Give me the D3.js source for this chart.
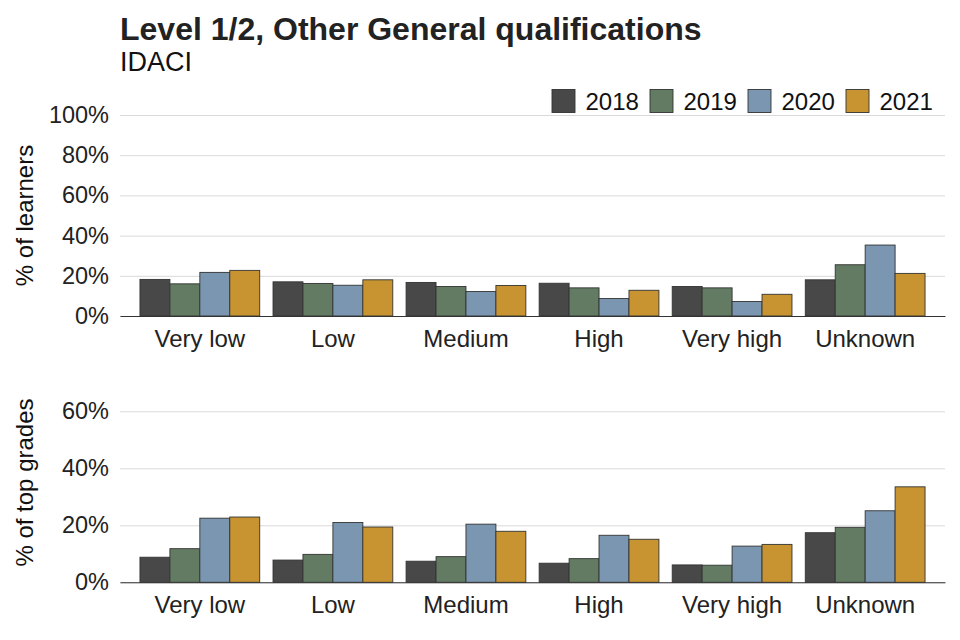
<!DOCTYPE html>
<html>
<head>
<meta charset="utf-8">
<script src="https://cdn.jsdelivr.net/npm/d3@7"></script>
<style>
  html, body { margin: 0; padding: 0; background: #fff; }
  svg { display: block; font-family: "Liberation Sans", Arial, sans-serif; }
</style>
</head>
<body>
<svg id="chart" width="960" height="640"></svg>
<script>
const categories = ["Very low", "Low", "Medium", "High", "Very high", "Unknown"];
const years = ["2018", "2019", "2020", "2021"];
const colours = ["#484848", "#627b62", "#7a96b0", "#c79431"];

// % of learners (top panel)
const learners2018 = [0.182, 0.170, 0.167, 0.163, 0.147, 0.180];
const learners2019 = [0.160, 0.162, 0.147, 0.140, 0.140, 0.255];
const learners2020 = [0.217, 0.153, 0.122, 0.087, 0.072, 0.353];
const learners2021 = [0.227, 0.180, 0.152, 0.128, 0.108, 0.212];

// % of top grades (bottom panel)
const top2018 = [0.088, 0.078, 0.074, 0.067, 0.061, 0.174];
const top2019 = [0.118, 0.098, 0.090, 0.083, 0.060, 0.193];
const top2020 = [0.225, 0.210, 0.204, 0.165, 0.127, 0.251];
const top2021 = [0.229, 0.194, 0.179, 0.151, 0.133, 0.335];

const learnerTicks = [0, 0.2, 0.4, 0.6, 0.8, 1.0];
const topTicks = [0, 0.2, 0.4, 0.6];

const titleText = "Level 1/2, Other General qualifications";
const subtitleText = "IDACI";

const svg = d3.select("#chart");
const left = 120, right = 945;
const fmt = d3.format(".0%");

const x = d3.scaleBand().domain(categories).range([left, right])
  .paddingInner(0.1).paddingOuter(0.15);
const xi = d3.scaleBand().domain(years).range([0, x.bandwidth()]).padding(0);
const colour = d3.scaleOrdinal().domain(years).range(colours);

function panel(series, yDomain, yRange, ticks, axisTitle) {
  const y = d3.scaleLinear().domain(yDomain).range(yRange);
  const g = svg.append("g");

  // gridlines
  g.append("g")
    .attr("transform", `translate(${left},0)`)
    .call(d3.axisLeft(y).tickValues(ticks).tickSize(-(right - left)).tickFormat(""))
    .call(s => s.select(".domain").remove())
    .call(s => s.selectAll("line").attr("stroke", "#d9d9d9").attr("stroke-width", 1));

  // tick labels
  g.append("g")
    .attr("transform", `translate(${left},0)`)
    .call(d3.axisLeft(y).tickValues(ticks).tickSize(0).tickPadding(11).tickFormat(fmt))
    .call(s => s.select(".domain").remove())
    .call(s => s.selectAll("text")
      .attr("font-size", "23.5px").attr("fill", "#222")
      .attr("font-family", "Liberation Sans, Arial, sans-serif"));

  // bars
  const rows = [];
  categories.forEach((c, i) => {
    years.forEach((yr, j) => rows.push({ cat: c, year: yr, value: series[j][i] }));
  });
  g.append("g").selectAll("rect").data(rows).join("rect")
    .attr("x", d => x(d.cat) + xi(d.year))
    .attr("width", xi.bandwidth())
    .attr("y", d => y(d.value))
    .attr("height", d => y(0) - y(d.value))
    .attr("fill", d => colour(d.year))
    .attr("stroke", "#333")
    .attr("stroke-width", 0.9);

  // x axis
  g.append("g")
    .attr("transform", `translate(0,${y(0)})`)
    .call(d3.axisBottom(x).tickSize(0).tickPadding(30.5))
    .call(s => s.select(".domain").attr("stroke", "#333").attr("stroke-width", 1.1))
    .call(s => s.selectAll("text")
      .attr("dy", 0)
      .attr("font-size", "24px").attr("fill", "#222")
      .attr("font-family", "Liberation Sans, Arial, sans-serif"));

  // y axis title
  const cy = (yRange[0] + yRange[1]) / 2;
  svg.append("text")
    .attr("transform", `translate(33,${cy}) rotate(-90)`)
    .attr("text-anchor", "middle")
    .attr("font-size", "24px")
    .attr("fill", "#111")
    .text(axisTitle);
}

panel([learners2018, learners2019, learners2020, learners2021], [0, 1], [316, 115], learnerTicks, "% of learners");
panel([top2018, top2019, top2020, top2021], [0, 0.7], [582.3, 382.8], topTicks, "% of top grades");

// Titles
svg.append("text").attr("x", left).attr("y", 39.5)
  .attr("font-size", "32px").attr("font-weight", "bold").attr("fill", "#222")
  .text(titleText);
svg.append("text").attr("x", left).attr("y", 70.5)
  .attr("font-size", "27px").attr("fill", "#111")
  .text(subtitleText);

// Legend
const legend = svg.append("g").selectAll("g").data(years).join("g")
  .attr("transform", (d, i) => `translate(${552 + i * 98},89.5)`);
legend.append("rect").attr("width", 23).attr("height", 23)
  .attr("fill", d => colour(d)).attr("stroke", "#333").attr("stroke-width", 0.9);
legend.append("text").attr("x", 33.5).attr("y", 20)
  .attr("font-size", "24px").attr("fill", "#111").text(d => d);
</script>
</body>
</html>
